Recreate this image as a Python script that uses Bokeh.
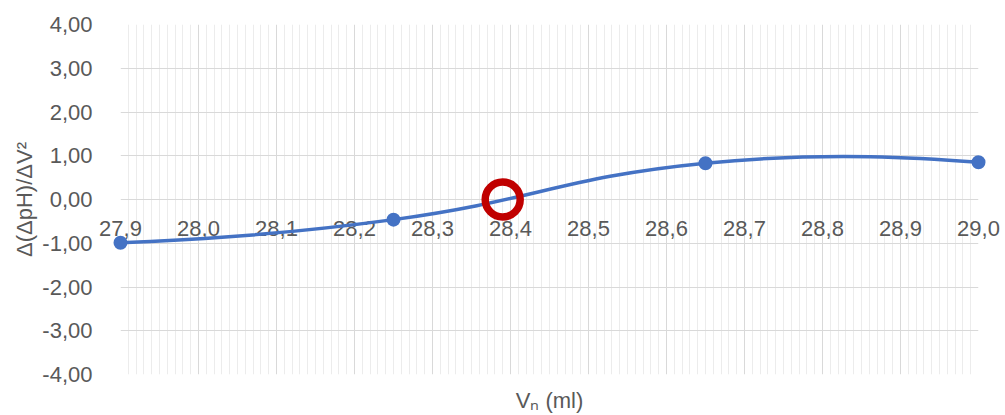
import numpy as np
from bokeh.plotting import figure
from bokeh.models import ColumnDataSource, FixedTicker, CustomJSTickFormatter, Range1d
from bokeh.core.properties import value
from bokeh.embed import file_html
from bokeh.resources import INLINE

# ---- data ----
vn_ml = [27.9, 28.25, 28.65, 29.0]
d_dph_dv2 = [-0.99, -0.46, 0.83, 0.85]
zero_x = [28.39]
zero_y = [0.0]

x_ticks = [27.9, 28.0, 28.1, 28.2, 28.3, 28.4, 28.5, 28.6, 28.7, 28.8, 28.9, 29.0]
x_tick_labels = ["27,9", "28,0", "28,1", "28,2", "28,3", "28,4", "28,5", "28,6", "28,7", "28,8", "28,9", "29,0"]
y_ticks = [-4, -3, -2, -1, 0, 1, 2, 3, 4]

FONT = "Liberation Sans"
TXT = "#595959"
BLUE = "#4472C4"
RED = "#C00000"

W, H = 1005, 415
LB, RB, TB, BB = 120, 27, 24, 37
X0, X1, Y0, Y1 = 27.9, 29.0, -4.0, 4.0

p = figure(width=W, height=H, output_backend="svg", toolbar_location=None,
           x_range=Range1d(X0, X1), y_range=Range1d(Y0, Y1),
           min_border_left=LB, min_border_right=RB, min_border_top=TB, min_border_bottom=BB)
p.outline_line_color = None
p.background_fill_color = "white"
p.border_fill_color = "white"

# grids
minor_x = [round(X0 + 0.01 * k, 2) for k in range(1, 110) if k % 10 != 0]
p.xgrid.ticker = FixedTicker(ticks=x_ticks, minor_ticks=minor_x)
p.xgrid.grid_line_color = "#d9d9d9"
p.xgrid.grid_line_width = 1
p.xgrid.minor_grid_line_color = "#ececec"
p.xgrid.minor_grid_line_width = 1
p.ygrid.ticker = FixedTicker(ticks=y_ticks)
p.ygrid.grid_line_color = "#d9d9d9"
p.ygrid.grid_line_width = 1

# x axis: only title (labels drawn at y = 0)
xa = p.xaxis[0]
xa.ticker = FixedTicker(ticks=[])
xa.axis_line_color = None
xa.major_tick_line_color = None
xa.minor_tick_line_color = None
xa.major_label_text_font_size = "0px"
xa.major_label_standoff = 0
xa.axis_label = "V\u2099 (ml)"
xa.axis_label_text_font = FONT
xa.axis_label_text_font_size = "22px"
xa.axis_label_text_font_style = "normal"
xa.axis_label_text_color = TXT
xa.axis_label_standoff = 13

ya = p.yaxis[0]
ya.ticker = FixedTicker(ticks=y_ticks)
ya.formatter = CustomJSTickFormatter(code="return tick.toFixed(2).replace('.', ',');")
ya.axis_line_color = None
ya.major_tick_line_color = None
ya.minor_tick_line_color = None
ya.major_label_standoff = 22
ya.major_label_text_font = FONT
ya.major_label_text_font_size = "22px"
ya.major_label_text_color = TXT
ya.axis_label = "\u0394(\u0394pH)/\u0394V\u00b2"
ya.axis_label_text_font = FONT
ya.axis_label_text_font_size = "22px"
ya.axis_label_text_font_style = "normal"
ya.axis_label_text_color = TXT
ya.axis_label_standoff = 2

# x tick labels along y = 0 (overlay level so the end labels are not clipped)
lab = ColumnDataSource(dict(x=x_ticks, y=[0.0] * len(x_ticks), t=x_tick_labels))
p.text(x="x", y="y", text="t", source=lab, text_font=value(FONT), text_font_size="22px",
       text_color=TXT, text_align="center", text_baseline="middle", y_offset=29,
       level="overlay")

# smoothed line (Bezier segments, control points from the data)
sx = (W - LB - RB) / (X1 - X0)
sy = (H - TB - BB) / (Y1 - Y0)
P = np.column_stack([np.array(vn_ml) * sx, np.array(d_dph_dv2) * sy])
n = len(P)
s, e = 0.46, 1.0 / 3.0
c_out = [None] * n
c_in = [None] * n
for i in range(1, n - 1):
    T = P[i + 1] - P[i - 1]
    dp = np.linalg.norm(P[i] - P[i - 1])
    dn = np.linalg.norm(P[i + 1] - P[i])
    c_out[i] = P[i] + T * s * dn / (dp + dn)
    c_in[i] = P[i] - T * s * dp / (dp + dn)
c_out[0] = P[0] + (c_in[1] - P[0]) * e
c_in[n - 1] = P[n - 1] + (c_out[n - 2] - P[n - 1]) * e
seg = dict(x0=[], y0=[], x1=[], y1=[], cx0=[], cy0=[], cx1=[], cy1=[])
for i in range(n - 1):
    seg["x0"].append(P[i][0] / sx); seg["y0"].append(P[i][1] / sy)
    seg["x1"].append(P[i + 1][0] / sx); seg["y1"].append(P[i + 1][1] / sy)
    seg["cx0"].append(c_out[i][0] / sx); seg["cy0"].append(c_out[i][1] / sy)
    seg["cx1"].append(c_in[i + 1][0] / sx); seg["cy1"].append(c_in[i + 1][1] / sy)
p.bezier(x0="x0", y0="y0", x1="x1", y1="y1", cx0="cx0", cy0="cy0", cx1="cx1", cy1="cy1",
         source=ColumnDataSource(seg), line_color=BLUE, line_width=3.5, level="overlay")

p.scatter(vn_ml, d_dph_dv2, size=14, fill_color=BLUE, line_color=None, level="overlay")
p.scatter(zero_x, zero_y, size=35, fill_color=None, line_color=RED, line_width=7.5, level="overlay")

open("out.html", "w").write(file_html(p, INLINE))
